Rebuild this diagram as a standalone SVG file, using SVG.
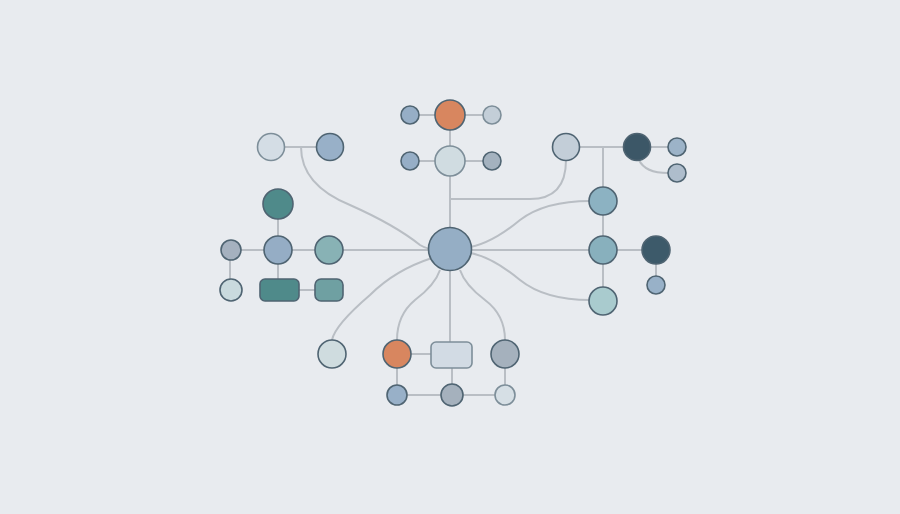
<svg xmlns="http://www.w3.org/2000/svg" width="900" height="514" viewBox="0 0 900 514">
<style>
.ln{fill:none;stroke:#b9bec4;stroke-width:2}
.n{stroke:#4f6472;stroke-width:1.6}
.lt{stroke:#7d8e99}
</style>
<rect width="900" height="514" fill="#e8ebef"/>
<g id="connectors" class="ln">
<path d="M410 115H492"/>
<path d="M410 161H492"/>
<path d="M450 115V342"/>
<path d="M450 199H530Q566 199 566 160"/>
<path d="M271 147H330"/>
<path d="M301 147Q301 185 350 205Q395 225 420 245Q428 250 440 250"/>
<path d="M230 250H603"/>
<path d="M603 250H656V285"/>
<path d="M278 204V290"/>
<path d="M230 250V290"/>
<path d="M299 290H315"/>
<path d="M566 147H677"/>
<path d="M639 160Q645 173 668 173"/>
<path d="M603 147V301"/>
<path d="M465 248Q490 245 520 220Q545 201 590 201"/>
<path d="M465 252Q490 255 520 280Q545 300 590 300"/>
<path d="M432 258Q395 270 370 295Q335 325 332 340"/>
<path d="M440 270Q435 285 415 300Q397 315 397 340"/>
<path d="M460 270Q465 285 485 300Q505 315 505 340"/>
<path d="M397 354H431"/>
<path d="M397 354V395H505V354"/>
<path d="M452 368V395"/>
</g>
<g id="center"><circle class="n" cx="450" cy="249" r="21.5" fill="#95aec5"/></g>
<g id="top-orange"><circle class="n" cx="450" cy="115" r="15" fill="#d8865f" stroke="#c07050"/></g>
<g id="top-left-small"><circle class="n" cx="410" cy="115" r="9" fill="#96aec6"/></g>
<g id="top-right-small"><circle class="n lt" cx="492" cy="115" r="9" fill="#c3ced8"/></g>
<g id="mid-light"><circle class="n lt" cx="450" cy="161" r="15" fill="#d0dce1"/></g>
<g id="mid-left-small"><circle class="n" cx="410" cy="161" r="9" fill="#96aec6"/></g>
<g id="mid-right-small"><circle class="n" cx="492" cy="161" r="9" fill="#a4b2bf"/></g>
<g id="lt-light"><circle class="n lt" cx="271" cy="147" r="13.5" fill="#d4dde5"/></g>
<g id="lt-blue"><circle class="n" cx="330" cy="147" r="13.5" fill="#98b0c8"/></g>
<g id="l-darkteal"><circle class="n" cx="278" cy="204" r="15" fill="#4f8a8a"/></g>
<g id="l-blue"><circle class="n" cx="278" cy="250" r="14" fill="#95adc5"/></g>
<g id="l-grey"><circle class="n" cx="231" cy="250" r="10" fill="#a5b1bf"/></g>
<g id="l-teal"><circle class="n" cx="329" cy="250" r="14" fill="#88b2b5"/></g>
<g id="l-light"><circle class="n" cx="231" cy="290" r="11" fill="#c9dade"/></g>
<g id="l-rect"><rect class="n" x="260" y="279" width="39" height="22" rx="5" fill="#4f8a8a"/></g>
<g id="l-rect-small"><rect class="n" x="315" y="279" width="28" height="22" rx="6" fill="#6fa0a2"/></g>
<g id="r-light"><circle class="n" cx="566" cy="147" r="13.5" fill="#c3ced8"/></g>
<g id="r-dark"><circle class="n" cx="637" cy="147" r="13.5" fill="#3c5767"/></g>
<g id="r-small1"><circle class="n" cx="677" cy="147" r="9" fill="#9cb3c8"/></g>
<g id="r-small2"><circle class="n" cx="677" cy="173" r="9" fill="#aebdcc"/></g>
<g id="r-col1"><circle class="n" cx="603" cy="201" r="14" fill="#8cb2c2"/></g>
<g id="r-col2"><circle class="n" cx="603" cy="250" r="14" fill="#88b0bd"/></g>
<g id="r-col3"><circle class="n" cx="603" cy="301" r="14" fill="#a9cbce"/></g>
<g id="r-dark2"><circle class="n" cx="656" cy="250" r="14" fill="#3d5a6a"/></g>
<g id="r-small3"><circle class="n" cx="656" cy="285" r="9" fill="#98b1c8"/></g>
<g id="b-light"><circle class="n" cx="332" cy="354" r="14" fill="#cfdcdf"/></g>
<g id="b-orange"><circle class="n" cx="397" cy="354" r="14" fill="#d8865f" stroke="#c07050"/></g>
<g id="b-rect"><rect class="n lt" x="431" y="342" width="41" height="26" rx="5" fill="#d2dbe4"/></g>
<g id="b-grey"><circle class="n" cx="505" cy="354" r="14" fill="#a5b1bd"/></g>
<g id="bb-blue"><circle class="n" cx="397" cy="395" r="10" fill="#98b0c8"/></g>
<g id="bb-grey"><circle class="n" cx="452" cy="395" r="11" fill="#a5b1bd"/></g>
<g id="bb-light"><circle class="n lt" cx="505" cy="395" r="10" fill="#d6dfe5"/></g>
</svg>
